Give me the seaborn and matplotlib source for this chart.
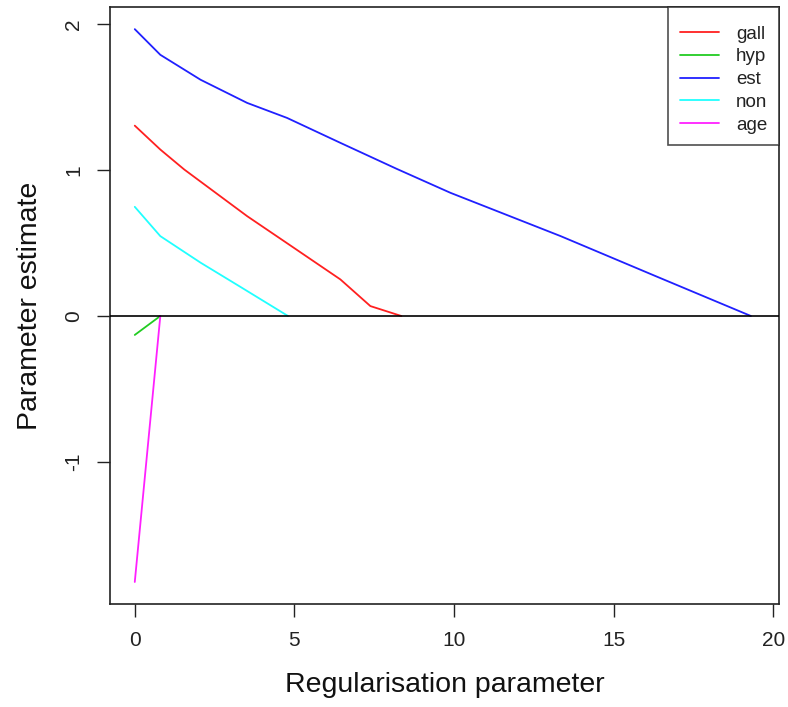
import matplotlib
matplotlib.use("Agg")
import matplotlib.pyplot as plt
import seaborn as sns
import pandas as pd
from matplotlib.lines import Line2D

# ---- data ----
series_names = ["gall", "hyp", "est", "non", "age"]
gall_x = [0, 0.8, 1.55, 3.52, 4.8, 6.44, 7.38, 8.35]
gall_y = [1.306, 1.142, 1.005, 0.685, 0.495, 0.251, 0.068, 0.0]
hyp_x = [0, 0.8]
hyp_y = [-0.13, 0.0]
est_x = [0, 0.8, 2.06, 3.52, 4.77, 6.44, 8.2, 9.89, 13.34, 16.3, 19.3]
est_y = [1.968, 1.792, 1.621, 1.462, 1.359, 1.188, 1.01, 0.845, 0.548, 0.275, 0.0]
non_x = [0, 0.8, 2.06, 3.27, 4.8]
non_y = [0.749, 0.548, 0.366, 0.205, 0.0]
age_x = [0, 0.8]
age_y = [-1.825, 0.0]
x_ticks = [0, 5, 10, 15, 20]
y_ticks = [-1, 0, 1, 2]
colors = ["#FF2020", "#22CC22", "#2020FF", "#20FFFF", "#FF20FF"]

xs = [gall_x, hyp_x, est_x, non_x, age_x]
ys = [gall_y, hyp_y, est_y, non_y, age_y]
rows = []
for name, xv, yv in zip(series_names, xs, ys):
    for i, (a, b) in enumerate(zip(xv, yv)):
        rows.append({"lam": a, "coef": b, "var": name, "idx": i})
df = pd.DataFrame(rows)

sns.set_theme(style="white")
plt.rcParams["font.family"] = ["Liberation Sans", "DejaVu Sans"]

fig = plt.figure(figsize=(7.88, 7.07), dpi=100)
ax = fig.add_axes([110 / 788, 1 - 604 / 707, (779 - 110) / 788, (604 - 7) / 707])

sns.lineplot(data=df, x="lam", y="coef", hue="var", hue_order=series_names,
             palette=dict(zip(series_names, colors)), estimator=None,
             sort=False, units="var", lw=1.3, ax=ax, legend=False)

ax.axhline(0, color="black", lw=1.2, zorder=5)

ax.set_xlim(-0.776, 20.18)
ax.set_ylim(-1.976, 2.12)
ax.set_xticks(x_ticks)
ax.set_yticks(y_ticks)
ax.set_yticklabels([str(t) for t in y_ticks], rotation=90, va="center")
ax.tick_params(axis="both", which="major", direction="out", length=9.5,
               width=1.0, color="#222222", labelsize=15, labelcolor="#222222",
               bottom=True, left=True)
ax.tick_params(axis="x", pad=10)
ax.tick_params(axis="y", pad=10)
for s in ax.spines.values():
    s.set_color("#222222")
    s.set_linewidth(1.2)

ax.set_xlabel("Regularisation parameter", fontsize=20.5, color="#111111", labelpad=16)
ax.set_ylabel("Parameter estimate", fontsize=20.5, color="#111111", labelpad=15)

handles = [Line2D([0], [0], color=c, lw=1.3) for c in colors]
leg = ax.legend(handles, series_names, loc="upper right", bbox_to_anchor=(1, 1),
                borderaxespad=0, fancybox=False, frameon=True, fontsize=13.5,
                handlelength=2.1, handletextpad=0.9, labelspacing=0.3,
                borderpad=0.63, title=" ", title_fontsize=1)
leg.get_frame().set_edgecolor("#222222")
leg.get_frame().set_linewidth(1.2)
leg.set_zorder(10)
for t in leg.get_texts():
    t.set_color("#222222")

fig.savefig("out.png", dpi=100)
